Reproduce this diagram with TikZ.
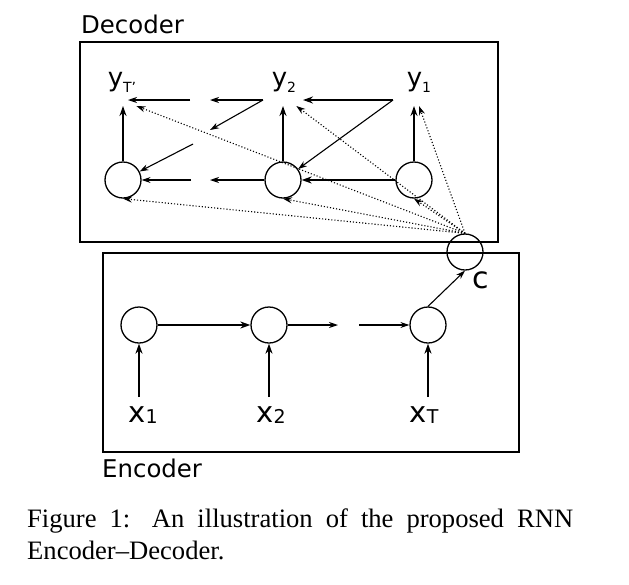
\documentclass[tikz,border=0pt]{standalone}
\usepackage{fontspec}
\setmainfont{Liberation Serif}
\setsansfont{DejaVu Sans}
\usetikzlibrary{arrows.meta}

\newcommand{\ysub}[1]{\raisebox{-6pt}{\fontsize{14}{14}\selectfont #1}}
\newcommand{\xsub}[1]{\raisebox{-1pt}{\fontsize{19}{19}\selectfont #1}}

\tikzset{
  unit/.style={draw, circle, line width=1.3pt, minimum size=36pt, inner sep=0pt},
  frame/.style={draw, line width=2pt},
  boxname/.style={font=\sffamily\fontsize{24.4}{24.4}\selectfont, inner sep=0pt, anchor=base west},
  ylab/.style={font=\sffamily\fontsize{26}{26}\selectfont, inner sep=0pt, outer ysep=14pt, anchor=base},
  xlab/.style={font=\sffamily\fontsize{29}{29}\selectfont, inner sep=0pt, outer ysep=9pt, anchor=base},
  heavy/.style={-{Stealth[length=10pt,width=7pt]}, line width=2pt},
  light/.style={-{Stealth[length=9pt,width=6pt]}, line width=1.1pt},
  attend/.style={-{Stealth[length=9pt,width=6pt]}, line width=1.1pt, dotted},
  capt/.style={font=\fontsize{26.6}{32}\selectfont, text width=546pt, align=justify, inner sep=0pt, anchor=north west}
}

\begin{document}
\begin{tikzpicture}[x=1pt, y=-1pt]
  \useasboundingbox (0,0) rectangle (629,584);

  % Decoder
  \draw[frame] (80,42) rectangle (498,242);
  \node[boxname] (dec) at (81,33) {Decoder};
  \node[unit] (hT) at (123,180) {};
  \node[unit] (h2) at (283,180) {};
  \node[unit] (h1) at (414,180) {};
  \node[ylab] (yT) at (122,86) {y\ysub{T'}};
  \node[ylab] (y2) at (284,86) {y\ysub{2}};
  \node[ylab] (y1) at (419,86) {y\ysub{1}};

  % Encoder
  \draw[frame] (103,253) rectangle (519,452);
  \node[boxname] (enc) at (102,477) {Encoder};
  \node[unit] (e1) at (139,325) {};
  \node[unit] (e2) at (269,325) {};
  \node[unit] (e3) at (428,325) {};
  \node[xlab] (x1) at (143,422) {x\xsub{1}};
  \node[xlab] (x2) at (271,422) {x\xsub{2}};
  \node[xlab] (xT) at (424,422) {x\xsub{T}};

  % summary
  \node[unit] (c) at (465,252) {};
  \node[font=\sffamily\fontsize{30}{30}\selectfont, inner sep=0pt, anchor=base] (cname) at (481,288) {c};

  % free ends
  \coordinate (t1) at (393,100);
  \coordinate (t2) at (303,100);
  \coordinate (t3) at (263,100);
  \coordinate (t4) at (210,100);
  \coordinate (t5) at (190,100);
  \coordinate (t6) at (128,100);
  \coordinate (t7) at (210,130);
  \coordinate (t8) at (193,144);
  \coordinate (b1) at (210,180);
  \coordinate (b2) at (191,180);
  \coordinate (g1) at (338,325);
  \coordinate (g2) at (359,325);

  % encoder arrows
  \draw[heavy] (e1 |- x1.north) -- (e1);
  \draw[heavy] (e2 |- x2.north) -- (e2);
  \draw[heavy] (e3 |- xT.north) -- (e3);
  \draw[heavy] (e1) -- (e2);
  \draw[light] (e2) -- (g1);
  \draw[light] (g2) -- (e3);
  \draw[light] (e3.north) -- (c.south);

  % decoder arrows
  \draw[heavy] (hT) -- (hT |- yT.south);
  \draw[heavy] (h2) -- (h2 |- y2.south);
  \draw[heavy] (h1) -- (h1 |- y1.south);
  \draw[heavy] (t1) -- (t2);
  \draw[light] (t1) -- (h2);
  \draw[light] (t3) -- (t4);
  \draw[light] (t3) -- (t7);
  \draw[light] (t5) -- (t6);
  \draw[light] (t8) -- (hT);
  \draw[heavy] (h1) -- (h2);
  \draw[light] (h2) -- (b1);
  \draw[light] (b2) -- (hT);

  % context to every step
  \draw[attend] (c.north) -- (yT.south east);
  \draw[attend] (c.north) -- (y2.south east);
  \draw[attend] (c.north) -- (y1.south);
  \draw[attend] (c.north) -- (hT.south);
  \draw[attend] (c.north) -- (h2.south);
  \draw[attend] (c.north) -- (h1.south);

  \node[capt] (cap) at (27,509) {Figure 1: An illustration of the proposed RNN\linebreak Encoder--Decoder.};
\end{tikzpicture}
\end{document}
